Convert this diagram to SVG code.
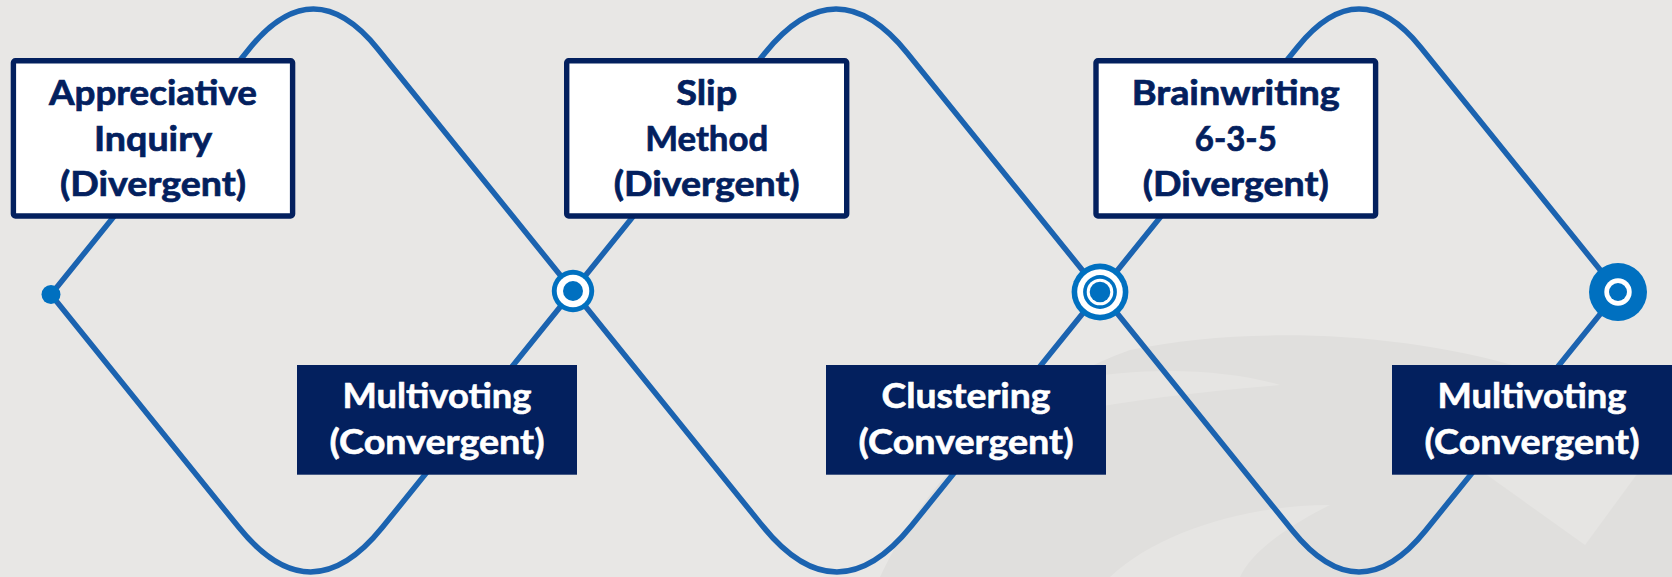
<svg xmlns="http://www.w3.org/2000/svg" width="1672" height="577" viewBox="0 0 1672 577">
  <style>
    .bg { fill: #e8e7e5; }
    .wm { fill: #e0dfdd; }
    .wm2 { fill: #e6e5e3; }
    .conn { fill: none; stroke: #1b63b0; stroke-width: 5.5; stroke-linejoin: round; stroke-linecap: round; }
    .div-box { fill: #ffffff; stroke: #03205e; stroke-width: 5.4; }
    .conv-box { fill: #03205e; }
    .div-text { font-family: Lato, "Liberation Sans", sans-serif; font-weight: 700; font-size: 35px; fill: #03205e; stroke: #03205e; stroke-width: 0.7; text-anchor: middle; }
    .conv-text { font-family: Lato, "Liberation Sans", sans-serif; font-weight: 700; font-size: 35px; fill: #ffffff; stroke: #ffffff; stroke-width: 0.6; text-anchor: middle; }
    .blue { fill: #0070c0; }
    .white { fill: #ffffff; }
  </style>
  <rect class="bg" x="0" y="0" width="1672" height="577"/>
  <g id="watermark">
    <path class="wm" d="M 880 577 C 930 470 1020 390 1130 350 C 1250 325 1420 330 1560 380 C 1620 400 1660 420 1672 430 L 1672 577 Z"/>
    <path class="wm2" d="M 1070 380 C 1150 365 1230 370 1280 385 C 1200 392 1130 400 1070 412 Z"/>
    <path class="wm2" d="M 1480 470 L 1585 545 L 1640 470 Z"/>
    <path class="wm2" d="M 1110 577 C 1160 530 1250 505 1330 505 C 1280 530 1250 555 1240 577 Z"/>
  </g>
  <g id="connectors">
    <path class="conn" d="M 51 294.5 L 249.1 48.9 Q 313.4 -30.9 377.8 48.9 L 573 291"/>
    <path class="conn" d="M 51 294.5 L 239 527.6 Q 310.6 616.4 382.2 527.6 L 573 291"/>
    <path class="conn" d="M 573 291 L 764.8 53.2 Q 836.1 -35.2 907.4 53.2 L 1100 292"/>
    <path class="conn" d="M 573 291 L 762.4 525.8 Q 836.9 618.2 911.5 525.8 L 1100 292"/>
    <path class="conn" d="M 1100 292 L 1297.4 47.2 Q 1359 -29.2 1420.6 47.2 L 1618 292"/>
    <path class="conn" d="M 1100 292 L 1292.6 530.8 Q 1359 613.2 1425.4 530.8 L 1618 292"/>
  </g>
  <g id="node-appreciative-inquiry">
    <rect class="div-box" x="13.4" y="60.7" width="279.2" height="155.3" rx="2"/>
    <text class="div-text" x="153" y="105" textLength="208" lengthAdjust="spacingAndGlyphs">Appreciative</text>
    <text class="div-text" x="153" y="150.5" textLength="118" lengthAdjust="spacingAndGlyphs">Inquiry</text>
    <text class="div-text" x="153" y="196" textLength="186" lengthAdjust="spacingAndGlyphs">(Divergent)</text>
  </g>
  <g id="node-multivoting-1">
    <rect class="conv-box" x="297" y="365" width="280" height="109.7"/>
    <text class="conv-text" x="437" y="408.3" textLength="189" lengthAdjust="spacingAndGlyphs">Multivoting</text>
    <text class="conv-text" x="437" y="454.3" textLength="215" lengthAdjust="spacingAndGlyphs">(Convergent)</text>
  </g>
  <g id="node-slip-method">
    <rect class="div-box" x="566.7" y="60.7" width="280" height="155.3" rx="2"/>
    <text class="div-text" x="706.7" y="105" textLength="61" lengthAdjust="spacingAndGlyphs">Slip</text>
    <text class="div-text" x="706.7" y="150.5" textLength="123" lengthAdjust="spacingAndGlyphs">Method</text>
    <text class="div-text" x="706.7" y="196" textLength="186" lengthAdjust="spacingAndGlyphs">(Divergent)</text>
  </g>
  <g id="node-clustering">
    <rect class="conv-box" x="826" y="365" width="280" height="109.7"/>
    <text class="conv-text" x="966" y="408.3" textLength="169" lengthAdjust="spacingAndGlyphs">Clustering</text>
    <text class="conv-text" x="966" y="454.3" textLength="215" lengthAdjust="spacingAndGlyphs">(Convergent)</text>
  </g>
  <g id="node-brainwriting">
    <rect class="div-box" x="1096" y="60.7" width="279.6" height="155.3" rx="2"/>
    <text class="div-text" x="1235.8" y="105" textLength="208" lengthAdjust="spacingAndGlyphs">Brainwriting</text>
    <text class="div-text" x="1235.8" y="150.5" textLength="82" lengthAdjust="spacingAndGlyphs">6-3-5</text>
    <text class="div-text" x="1235.8" y="196" textLength="186" lengthAdjust="spacingAndGlyphs">(Divergent)</text>
  </g>
  <g id="node-multivoting-2">
    <rect class="conv-box" x="1392" y="365" width="280" height="109.7"/>
    <text class="conv-text" x="1532" y="408.3" textLength="189" lengthAdjust="spacingAndGlyphs">Multivoting</text>
    <text class="conv-text" x="1532" y="454.3" textLength="215" lengthAdjust="spacingAndGlyphs">(Convergent)</text>
  </g>
  <g id="marker-start">
    <circle class="blue" cx="51" cy="294.5" r="9.5"/>
  </g>
  <g id="marker-1">
    <circle class="blue" cx="573" cy="291" r="21.2"/>
    <circle class="white" cx="573" cy="291" r="16.3"/>
    <circle class="blue" cx="573" cy="291" r="10"/>
  </g>
  <g id="marker-2">
    <circle class="blue" cx="1100" cy="292" r="28.4"/>
    <circle class="white" cx="1100" cy="292" r="22.8"/>
    <circle class="blue" cx="1100" cy="292" r="16.9"/>
    <circle class="white" cx="1100" cy="292" r="13.3"/>
    <circle class="blue" cx="1100" cy="292" r="10.3"/>
  </g>
  <g id="marker-3">
    <circle class="blue" cx="1618" cy="292" r="29"/>
    <circle class="white" cx="1618" cy="292" r="13.7"/>
    <circle class="blue" cx="1618" cy="292" r="9"/>
  </g>
</svg>
